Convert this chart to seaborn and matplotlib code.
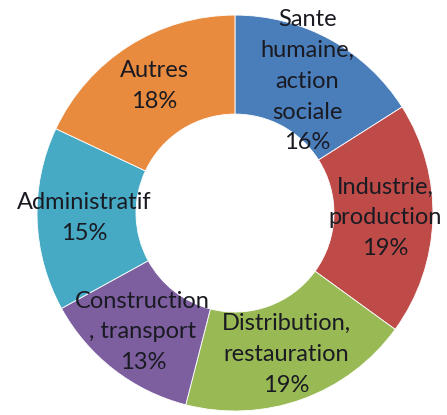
import matplotlib
matplotlib.use('Agg')
import matplotlib.pyplot as plt
import seaborn as sns

# Secteurs d'activite (ordre horaire depuis le haut)
secteurs = ['Sante\nhumaine,\naction\nsociale', 'Industrie,\nproduction',
            'Distribution,\nrestauration', 'Construction\n, transport',
            'Administratif', 'Autres']
parts = [16, 19, 19, 13, 15, 18]
couleurs = ['#4A7EBB', '#BE4B48', '#98B954', '#7D5FA0', '#46AAC5', '#E98B3E']

sns.set_theme(style="white")
plt.rcParams['font.family'] = ['Lato', 'DejaVu Sans']

fig = plt.figure(figsize=(4.47, 4.15), dpi=100)
ax = fig.add_axes([0, 0, 1, 1])

labels = [f"{s}\n{p}%" for s, p in zip(secteurs, parts)]
wedges, texts = ax.pie(parts, labels=labels, colors=sns.color_palette(couleurs),
                       startangle=90, counterclock=False, radius=1,
                       labeldistance=0.76,
                       wedgeprops=dict(width=0.5, edgecolor='white', linewidth=0.6),
                       textprops=dict(ha='center', va='center', fontsize=17,
                                      color='#1a1a22', linespacing=1.58))

ax.set_aspect('equal')
ax.set_xlim(-1.187, 1.071)
ax.set_ylim(-1.020, 1.076)
ax.axis('off')

fig.savefig('out.png', dpi=100, facecolor='white')
